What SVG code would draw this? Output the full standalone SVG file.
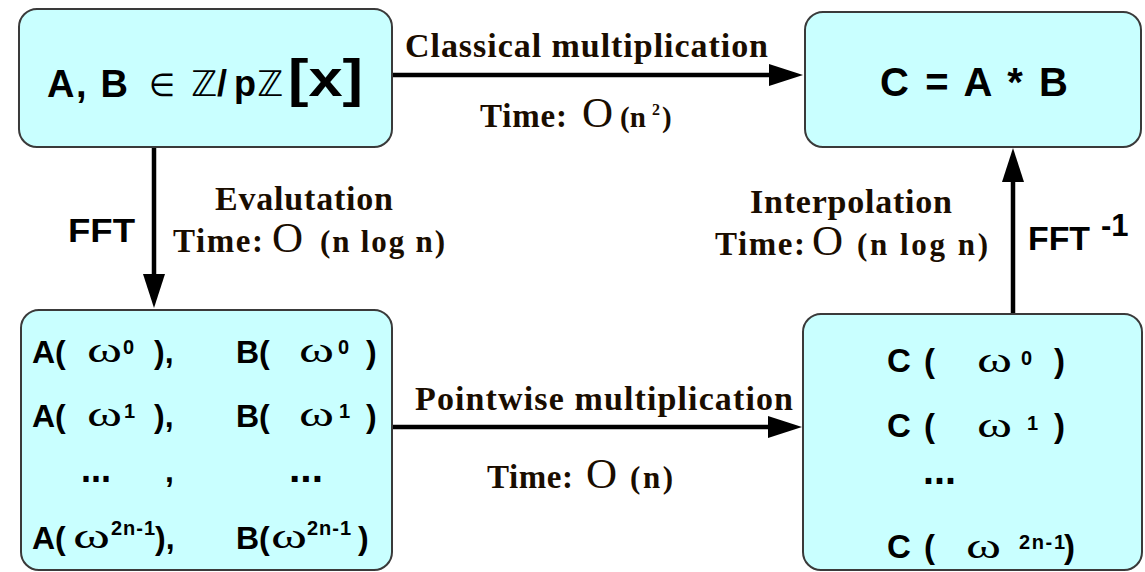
<svg xmlns="http://www.w3.org/2000/svg" width="1145" height="572" viewBox="0 0 1145 572">
<style>
.box{fill:#c9ffff;stroke:#3a3a3a;stroke-width:2}
.ar{font-family:"Liberation Sans",Arial,sans-serif;font-weight:bold;fill:#000}
.dj{font-family:"DejaVu Sans",sans-serif;fill:#000}
.ser{font-family:"Liberation Serif","Times New Roman",serif;font-weight:bold;fill:#1a0d00}
.big{font-family:"Liberation Serif","Times New Roman",serif;font-weight:normal;font-size:43px;fill:#1a0d00}
.om{font-family:"Liberation Serif","Times New Roman",serif;font-weight:normal;font-size:36px;fill:#000}
.conn{stroke:#000;stroke-width:4.5;fill:none}
</style>
<defs>
<marker id="ah" markerUnits="userSpaceOnUse" markerWidth="34" markerHeight="22" refX="4" refY="11" orient="auto" viewBox="0 0 34 22">
<path d="M0,0 L34,11 L0,22 z" fill="#000"/>
</marker>
</defs>

<g id="connectors">
<line class="conn" x1="392" y1="75" x2="773" y2="75" marker-end="url(#ah)"/>
<line class="conn" x1="392" y1="427" x2="772" y2="427" marker-end="url(#ah)"/>
<line class="conn" x1="154" y1="147" x2="154" y2="278" marker-end="url(#ah)"/>
<line class="conn" x1="1013" y1="314" x2="1013" y2="178" marker-end="url(#ah)"/>
</g>

<g id="label-classical">
<text class="ser" x="405" y="57" font-size="34" textLength="363" lengthAdjust="spacing">Classical multiplication</text>
<text class="ser" x="480" y="127" font-size="33" textLength="87" lengthAdjust="spacing">Time:</text>
<text class="big" x="582" y="127">O</text>
<text class="ser" x="620" y="127" font-size="29">(n</text>
<text class="ser" x="652" y="115" font-size="16">2</text>
<text class="ser" x="662" y="127" font-size="29">)</text>
</g>

<g id="label-evaluation">
<text class="ar" x="68" y="242" font-size="34" textLength="67" lengthAdjust="spacingAndGlyphs">FFT</text>
<text class="ser" x="215" y="210" font-size="34" textLength="178" lengthAdjust="spacing">Evalutation</text>
<text class="ser" x="173" y="252" font-size="33" textLength="90" lengthAdjust="spacing">Time:</text>
<text class="big" x="272" y="252">O</text>
<text class="ser" x="320" y="252" font-size="31" textLength="125" lengthAdjust="spacing">(n log n)</text>
</g>

<g id="label-interpolation">
<text class="ser" x="750" y="213" font-size="34" textLength="202" lengthAdjust="spacing">Interpolation</text>
<text class="ser" x="715" y="255" font-size="33" textLength="90" lengthAdjust="spacing">Time:</text>
<text class="big" x="812" y="255">O</text>
<text class="ser" x="857" y="255" font-size="31" textLength="131" lengthAdjust="spacing">(n log n)</text>
<text class="ar" x="1028" y="250" font-size="34" textLength="62" lengthAdjust="spacingAndGlyphs">FFT</text>
<text class="ar" x="1101" y="236" font-size="31">-1</text>
</g>

<g id="label-pointwise">
<text class="ser" x="415" y="410" font-size="34" textLength="378" lengthAdjust="spacing">Pointwise  multiplication</text>
<text class="ser" x="487" y="488" font-size="33" textLength="86" lengthAdjust="spacing">Time:</text>
<text class="big" x="586" y="488">O</text>
<text class="ser" x="630" y="488" font-size="31" textLength="43" lengthAdjust="spacing">(n)</text>
</g>

<g id="node-AB">
<rect class="box" x="19" y="9" width="373" height="138" rx="18"/>
<text class="ar" x="47" y="97" font-size="38" textLength="81" lengthAdjust="spacing">A, B</text>
<text class="dj" x="149" y="96" font-size="32" textLength="26" lengthAdjust="spacingAndGlyphs">∈</text>
<text class="dj" x="191" y="96" font-size="35" textLength="26" lengthAdjust="spacingAndGlyphs">ℤ</text>
<text class="ar" x="217" y="96" font-size="36" textLength="39" lengthAdjust="spacing">/p</text>
<text class="dj" x="257" y="96" font-size="35" textLength="26" lengthAdjust="spacingAndGlyphs">ℤ</text>
<text class="ar" x="288" y="96" font-size="52" textLength="75" lengthAdjust="spacingAndGlyphs">[x]</text>
</g>

<g id="node-C">
<rect class="box" x="805" y="12" width="336" height="135" rx="18"/>
<text class="ar" x="880" y="96" font-size="40" textLength="188" lengthAdjust="spacing">C = A * B</text>
</g>

<g id="node-evals">
<rect class="box" x="21" y="310" width="371" height="260" rx="18"/>
<text class="ar" x="32" y="363" font-size="32">A(</text>
<text class="om" x="87" y="362" textLength="35" lengthAdjust="spacingAndGlyphs">ω</text>
<text class="ar" x="123" y="354" font-size="20">0</text>
<text class="ar" x="154" y="363" font-size="32">),</text>
<text class="ar" x="236" y="363" font-size="32">B(</text>
<text class="om" x="299" y="362" textLength="35" lengthAdjust="spacingAndGlyphs">ω</text>
<text class="ar" x="338" y="354" font-size="20">0</text>
<text class="ar" x="366" y="363" font-size="32">)</text>

<text class="ar" x="32" y="427" font-size="32">A(</text>
<text class="om" x="87" y="426" textLength="35" lengthAdjust="spacingAndGlyphs">ω</text>
<text class="ar" x="124" y="418" font-size="20">1</text>
<text class="ar" x="154" y="427" font-size="32">),</text>
<text class="ar" x="236" y="427" font-size="32">B(</text>
<text class="om" x="299" y="426" textLength="35" lengthAdjust="spacingAndGlyphs">ω</text>
<text class="ar" x="339" y="418" font-size="20">1</text>
<text class="ar" x="366" y="427" font-size="32">)</text>

<text class="ar" x="81" y="482" font-size="40" textLength="30" lengthAdjust="spacingAndGlyphs">...</text>
<text class="ar" x="165" y="482" font-size="32">,</text>
<text class="ar" x="289" y="482" font-size="40" textLength="34" lengthAdjust="spacingAndGlyphs">...</text>

<text class="ar" x="32" y="549" font-size="32">A(</text>
<text class="om" x="73" y="548" textLength="37" lengthAdjust="spacingAndGlyphs">ω</text>
<text class="ar" x="111" y="535" font-size="20" textLength="44" lengthAdjust="spacing">2n-1</text>
<text class="ar" x="155" y="549" font-size="32">),</text>
<text class="ar" x="236" y="549" font-size="32">B(</text>
<text class="om" x="271" y="548" textLength="36" lengthAdjust="spacingAndGlyphs">ω</text>
<text class="ar" x="307" y="535" font-size="20" textLength="44" lengthAdjust="spacing">2n-1</text>
<text class="ar" x="358" y="549" font-size="32">)</text>
</g>

<g id="node-Cvals">
<rect class="box" x="803" y="314" width="339" height="256" rx="18"/>
<text class="ar" x="887" y="372" font-size="33">C</text>
<text class="ar" x="924" y="372" font-size="33">(</text>
<text class="om" x="977" y="372" textLength="35" lengthAdjust="spacingAndGlyphs">ω</text>
<text class="ar" x="1021" y="365" font-size="20">0</text>
<text class="ar" x="1054" y="372" font-size="33">)</text>

<text class="ar" x="887" y="437" font-size="33">C</text>
<text class="ar" x="924" y="437" font-size="33">(</text>
<text class="om" x="977" y="437" textLength="35" lengthAdjust="spacingAndGlyphs">ω</text>
<text class="ar" x="1027" y="430" font-size="20">1</text>
<text class="ar" x="1054" y="437" font-size="33">)</text>

<text class="ar" x="923" y="484" font-size="40" textLength="33" lengthAdjust="spacingAndGlyphs">...</text>

<text class="ar" x="887" y="558" font-size="33">C</text>
<text class="ar" x="924" y="558" font-size="33">(</text>
<text class="om" x="966" y="558" textLength="35" lengthAdjust="spacingAndGlyphs">ω</text>
<text class="ar" x="1019" y="549" font-size="20" textLength="46" lengthAdjust="spacing">2n-1</text>
<text class="ar" x="1064" y="558" font-size="33">)</text>
</g>
</svg>
